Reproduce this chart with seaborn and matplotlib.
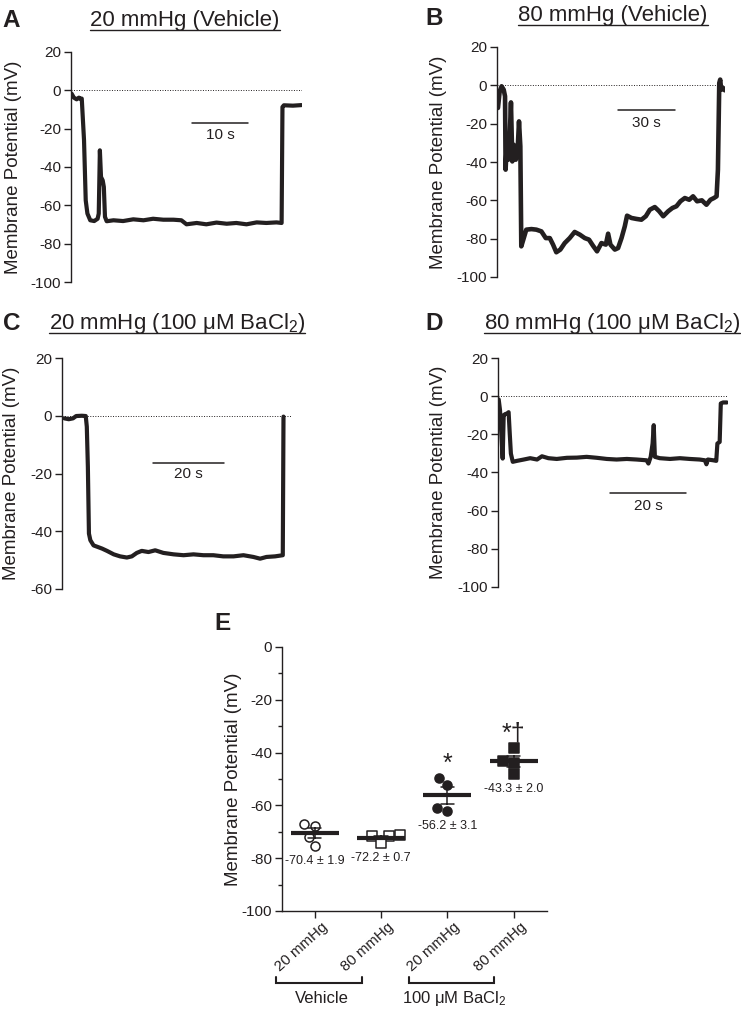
import numpy as np
import pandas as pd
import matplotlib
matplotlib.use("Agg")
import matplotlib.pyplot as plt
import seaborn as sns
from matplotlib.lines import Line2D
from matplotlib.ticker import MultipleLocator

sns.set_theme(style="ticks")
plt.rcParams["font.family"] = ["Liberation Sans", "DejaVu Sans"]
plt.rcParams["mathtext.default"] = "regular"
plt.rcParams["axes.unicode_minus"] = False
INK = "#231f20"
plt.rcParams["text.color"] = INK
plt.rcParams["axes.edgecolor"] = INK
plt.rcParams["axes.linewidth"] = 1.0

# ---------------- data ----------------
a_time = [0.1, 0.5, 1.0, 1.4, 1.7, 1.9, 2.3, 2.6, 2.9, 3.4, 4.1, 4.7, 4.9,
          5.1, 5.3, 5.6, 5.8, 6.0, 6.3, 7.5, 9.2, 11.0, 12.8, 14.5, 16.3, 18.1, 19.5,
          20.4, 22.2, 23.9, 25.7, 27.5, 29.2, 31.0, 32.8, 34.5, 36.3, 37.2,
          37.35, 37.6, 39.2, 40.7]
a_mv = [-1.7, -3.8, -4.7, -3.8, -4.5, -4.3, -26.0, -57.4, -64.3, -67.8, -68.2, -67.0, -64.3,
        -31.3, -45.2, -47.0, -50.4, -66.0, -68.3, -67.8, -68.2, -67.3, -67.8, -67.0, -67.5, -67.5, -67.8,
        -69.9, -69.2, -69.9, -69.0, -69.6, -69.2, -69.9, -68.9, -69.2, -68.9, -69.2,
        -8.7, -7.8, -8.0, -7.7]

b_time = [0.5, 1.4, 2.4, 3.5, 4.2, 4.5, 5.2, 5.9, 6.6, 7.3, 8.0, 8.7, 9.8, 10.8, 11.5, 12.2,
          12.7, 14.0, 15.3, 18.0, 20.6, 23.2, 25.5, 27.6, 29.3, 31.0, 33.1, 35.4, 38.0,
          40.6, 43.3, 45.9, 48.1, 50.2, 52.3, 54.6, 56.9, 58.1, 59.3, 61.6, 63.3, 65.1,
          66.8, 68.0, 70.3, 72.9, 75.5, 77.8, 79.9, 82.5, 84.8, 86.9, 89.5, 91.7, 93.8,
          95.9, 98.2, 100.5, 102.5, 104.6, 107.1, 109.5, 111.6, 113.4, 114.8, 115.5,
          116.2, 116.7, 117.2, 118.3, 119.1]
b_mv = [-11.8, -3.1, -0.5, -2.3, -5.7, -44.0, -28.3, -38.8, -28.3, -8.9, -39.7, -31.0, -38.8, -33.6, -18.8, -31.8,
        -84.0, -79.7, -75.3, -75.0, -75.3, -76.2, -79.7, -79.7, -83.1, -87.1, -85.7, -82.3, -79.7,
        -76.5, -77.9, -79.7, -80.5, -83.7, -86.6, -82.3, -83.1, -77.4, -83.1, -85.7, -84.9, -79.7,
        -73.6, -68.0, -69.2, -69.7, -70.1, -68.3, -64.9, -63.5, -65.7, -68.3, -65.7, -64.0, -63.1,
        -60.5, -58.8, -59.7, -57.9, -60.5, -60.0, -62.3, -59.7, -58.8, -57.9, -44.0,
        1.2, 3.0, -2.3, -1.4, -2.6]

c_time = [0.66, 1.9, 3.1, 4.0, 5.6, 6.7, 7.0, 7.3, 7.6, 8.0, 8.9, 10.0, 11.3, 12.7, 14.6,
          16.4, 18.3, 19.7, 21.1, 22.5, 24.4, 26.3, 28.6, 31.5, 34.3, 37.1, 39.9, 42.7,
          45.5, 48.4, 51.2, 54.0, 55.9, 57.7, 60.1, 62.3, 62.5]
c_mv = [-0.9, -1.2, -0.9, -0.1, 0.0, -0.1, -3.8, -17.7, -40.8, -43.1, -44.9, -45.4, -46.0, -46.8, -48.0,
        -48.7, -49.1, -48.7, -47.5, -46.8, -47.2, -46.6, -47.5, -48.0, -48.3, -48.0, -48.3, -48.3,
        -48.7, -48.7, -48.3, -48.9, -49.5, -48.9, -48.7, -48.3, -0.3]

d_time = [0.18, 0.53, 0.88, 1.23, 1.5, 1.9, 2.4, 2.8, 3.1, 3.4, 3.9, 5.0, 6.8, 8.5, 10.3, 11.6,
          13.3, 15.5, 18.2, 20.8, 23.4, 26.1, 28.7, 31.3, 34.0, 36.6, 39.2, 39.7, 40.3, 40.8,
          41.1, 41.4, 42.7, 45.4, 48.0, 50.6, 53.2, 54.6, 55.0, 55.4, 56.8, 57.6, 57.9, 58.5,
          58.8, 59.4, 60.4]
d_mv = [-1.7, -7.3, -19.6, -32.7, -10.0, -9.4, -9.1, -8.4, -19.6, -30.1, -34.4, -33.9, -33.2, -32.5, -33.2, -31.5,
        -32.5, -32.9, -32.3, -32.2, -31.8, -32.3, -32.9, -33.2, -32.9, -33.2, -33.6, -35.3, -31.8, -24.8,
        -15.2, -31.8, -32.5, -32.9, -32.5, -32.9, -33.2, -33.6, -35.7, -33.2, -33.6, -33.9, -24.8, -24.0,
        -3.8, -3.3, -3.3]

e_groups = ["Vehicle 20", "Vehicle 80", "BaCl2 20", "BaCl2 80"]
e_tick_labels = ["20 mmHg", "80 mmHg", "20 mmHg", "80 mmHg"]
e_vehicle_20 = [-67.0, -67.8, -71.8, -75.3]
e_vehicle_80 = [-71.4, -71.5, -71.7, -74.2]
e_bacl2_20 = [-49.5, -52.3, -61.1, -62.0]
e_bacl2_80 = [-38.2, -43.3, -43.8, -48.0]
e_summary = ["-70.4 ± 1.9", "-72.2 ± 0.7", "-56.2 ± 3.1", "-43.3 ± 2.0"]
e_signif = ["", "", "*", "*†"]
e_brackets = ["Vehicle", "100 μM BaCl$_2$"]

# ---------------- layout ----------------
W, H, DPI = 741, 1014, 100
fig = plt.figure(figsize=(W / DPI, H / DPI), dpi=DPI)
fig.patch.set_facecolor("white")


def px_axes(left, top, right, bottom):
    return fig.add_axes([left / W, 1 - bottom / H, (right - left) / W, (bottom - top) / H])


YLABEL = "Membrane Potential (mV)"


def trace_panel(rect, t, v, ylim, yticks, xmax, bar, bar_label, lw, label_x):
    ax = px_axes(*rect)
    sns.lineplot(x=t, y=v, ax=ax, color=INK, linewidth=lw, estimator=None, sort=False)
    ax.axhline(0, color=INK, lw=0.7, ls=(0, (1, 1.6)))
    ax.set_xlim(0, xmax)
    ax.set_ylim(*ylim)
    ax.set_yticks(yticks)
    ax.set_xticks([])
    sns.despine(ax=ax, bottom=True)
    ax.tick_params(axis="y", length=5, width=1.0, pad=2, labelsize=11, colors=INK)
    ax.set_ylabel(YLABEL, fontsize=13.5, color=INK)
    ax.yaxis.set_label_coords(label_x, 0.5)
    x0, length, yb, ylab = bar
    ax.plot([x0, x0 + length], [yb, yb], color=INK, lw=1.1)
    ax.text(x0 + length / 2, ylab, bar_label, ha="center", va="top", fontsize=11)
    return ax


trace_panel((71, 52, 302, 282), a_time, a_mv, (-100, 20), range(-100, 21, 20), 40.8,
            (21.3, 10, -17, -19.5), "10 s", 3.0, -0.212)
trace_panel((497, 47, 725, 277), b_time, b_mv, (-100, 20), range(-100, 21, 20), 119.2,
            (63.0, 30, -13, -15.8), "30 s", 3.3, -0.221)
trace_panel((62, 358, 292, 589), c_time, c_mv, (-60, 20), range(-60, 21, 20), 64.9,
            (25.8, 20, -16.3, -17.8), "20 s", 3.0, -0.181)
trace_panel((498, 358, 728, 587), d_time, d_mv, (-100, 20), range(-100, 21, 20), 60.7,
            (29.6, 20, -50.7, -53.8), "20 s", 3.0, -0.22)

# panel letters and underlined titles
letters = [("A", 2, 27), ("B", 425, 25), ("C", 3, 330), ("D", 425, 330), ("E", 214, 630)]
for s, x, y in letters:
    fig.text(x / W, 1 - y / H, s, fontsize=17.5, fontweight="bold", ha="left", va="baseline")

titles = [("20 mmHg (Vehicle)", 185, 26), ("80 mmHg (Vehicle)", 613, 21),
          ("20 mmHg (100 μM BaCl$_2$)", 177, 329), ("80 mmHg (100 μM BaCl$_2$)", 612, 329)]
title_artists = []
for s, x, y in titles:
    t = fig.text(x / W, 1 - y / H, s, fontsize=16, ha="center", va="baseline")
    title_artists.append((t, y))

# ---------------- panel E ----------------
axE = px_axes(281.7, 647, 546.7, 911)
df = pd.DataFrame({
    "group": np.repeat(e_groups, 4),
    "mV": e_vehicle_20 + e_vehicle_80 + e_bacl2_20 + e_bacl2_80,
})
axE.set_ylim(-100, 0)
styles = [("o", "white"), ("s", "white"), ("o", INK), ("s", INK)]
for g, (m, fc) in zip(e_groups, styles):
    sns.swarmplot(data=df[df.group == g], x="group", y="mV", order=e_groups, marker=m,
                  color=fc, edgecolor=INK, linewidth=1.1, size=6.5, ax=axE, zorder=1)
sns.pointplot(data=df, x="group", y="mV", order=e_groups, errorbar="se", capsize=0.2,
              color=INK, markers="_", linestyles="none", markersize=34, markeredgewidth=3.0,
              err_kws={"linewidth": 1.1}, ax=axE)
axE.set_xlim(-0.5, 3.5)
axE.set_ylim(-100, 0)
axE.set_yticks(range(-100, 1, 20))
axE.yaxis.set_minor_locator(MultipleLocator(10))
axE.set_xticks(range(4))
axE.set_xticklabels([])
trans = axE.get_xaxis_transform()
for i, lab in enumerate(e_tick_labels):
    axE.annotate(lab, xy=(i, 0), xycoords=trans, xytext=(4.5, -6.5), textcoords="offset points",
                 rotation=42, rotation_mode="anchor", ha="right", va="top", fontsize=10.8,
                 annotation_clip=False)
axE.set_xlabel("")
axE.set_ylabel(YLABEL, fontsize=13.5, color=INK)
axE.yaxis.set_label_coords(-0.15, 0.5)
sns.despine(ax=axE)
axE.tick_params(axis="y", which="major", length=5, width=1.0, pad=2, labelsize=11, colors=INK)
axE.tick_params(axis="y", which="minor", length=3, width=1.0, colors=INK)
axE.tick_params(axis="x", length=5, width=1.0, pad=3, colors=INK)

for i, g in enumerate(e_groups):
    vals = df.loc[df.group == g, "mV"]
    axE.annotate(e_summary[i], xy=(i, vals.min()), xytext=(0, -11), textcoords="offset points",
                 ha="center", va="center", fontsize=9)
    if e_signif[i]:
        axE.annotate(e_signif[i], xy=(i, vals.max()), xytext=(0, 10), textcoords="offset points",
                     ha="center", va="center", fontsize=18)

# group brackets below the category labels
for k, lab in enumerate(e_brackets):
    first, last = 2 * k, 2 * k + 1
    xa, xb = first - 0.58, last - 0.29
    axE.plot([xa, xa, xb, xb], [-0.25, -0.2727, -0.2727, -0.25], transform=trans,
             color=INK, lw=1.5, clip_on=False, solid_joinstyle="miter")
    axE.text((xa + xb) / 2 + 0.04, -0.33, lab, transform=trans, ha="center", va="center", fontsize=12)

# underline titles
fig.canvas.draw()
renderer = fig.canvas.get_renderer()
for t, y in title_artists:
    bb = t.get_window_extent(renderer)
    yy = 1 - (y + 4) / H
    fig.add_artist(Line2D([bb.x0 / W, bb.x1 / W], [yy, yy], transform=fig.transFigure,
                          color=INK, lw=1.0))

fig.savefig("out.png", dpi=DPI)
